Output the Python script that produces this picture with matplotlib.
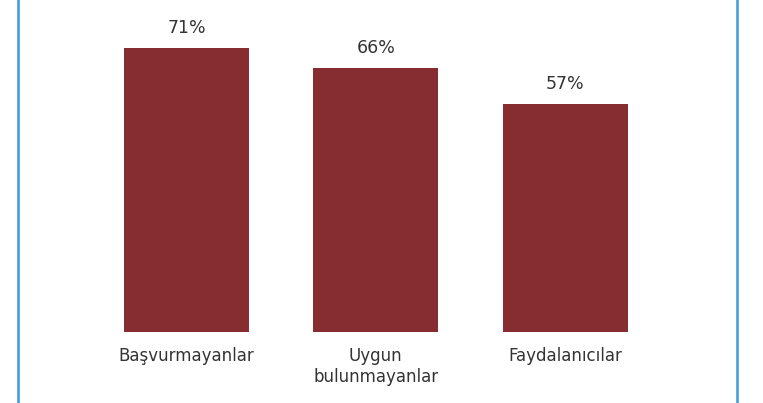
import matplotlib.pyplot as plt
from matplotlib.lines import Line2D

categories = ['Başvurmayanlar', 'Uygun\nbulunmayanlar', 'Faydalanıcılar']
values = [71, 66, 57]
labels = ['71%', '66%', '57%']

bar_color = '#862d32'
text_color = '#333333'

fig = plt.figure(figsize=(7.63, 4.03), dpi=100)
ax = fig.add_axes([0.1203, 0.1762, 0.7444, 0.8238])

x = range(len(categories))
bars = ax.bar(x, values, width=0.66, color=bar_color)
for b, lab in zip(bars, labels):
    ax.text(b.get_x() + b.get_width() / 2, b.get_height() + 5, lab,
            ha='center', va='center', fontsize=12.5, color=text_color)

ax.set_xlim(-0.5, 2.5)
ax.set_ylim(0, 83)
ax.set_xticks(list(x))
ax.set_xticklabels(categories, fontsize=12, color=text_color, linespacing=1.2)
ax.tick_params(axis='x', length=0, pad=11)
ax.set_yticks([])
for s in ax.spines.values():
    s.set_visible(False)

# blue frame lines at left and right
for fx in (18 / 763, 737 / 763):
    fig.add_artist(Line2D([fx, fx], [0, 1], transform=fig.transFigure,
                          color='#3a9ad9', linewidth=1.8))

fig.savefig('out.png', dpi=100)
